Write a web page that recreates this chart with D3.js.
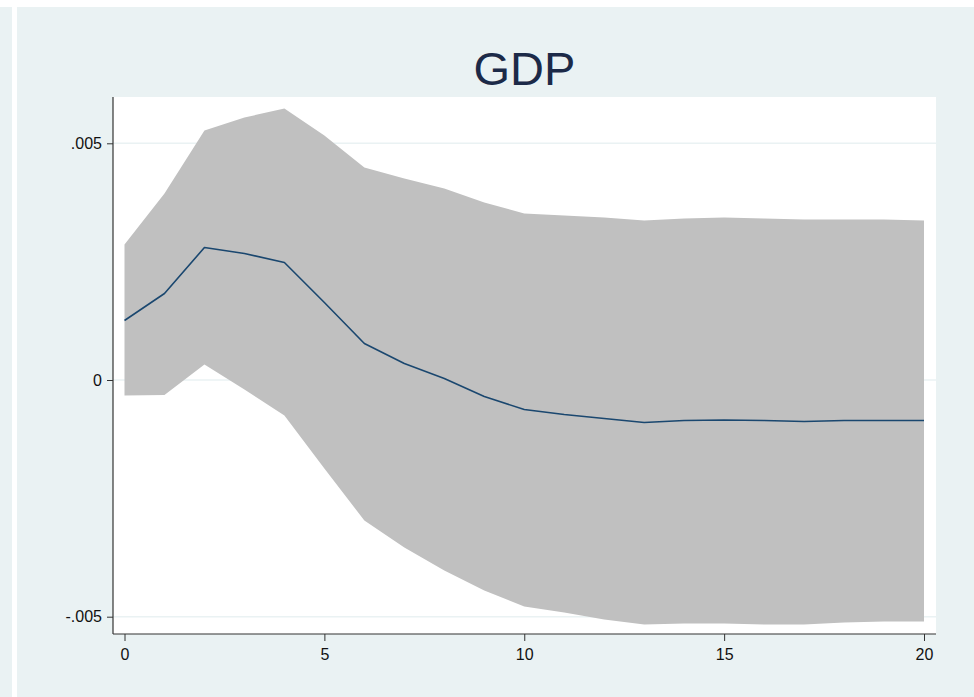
<!DOCTYPE html>
<html>
<head>
<meta charset="utf-8">
<script src="https://cdn.jsdelivr.net/npm/d3@7/dist/d3.min.js"></script>
<style>
  html, body { margin: 0; padding: 0; background: #ffffff; }
  svg { display: block; }
  text { font-family: "Liberation Sans", Arial, sans-serif; }
</style>
</head>
<body>
<svg id="chart" width="974" height="697"></svg>
<script>
// Impulse response of GDP with confidence band
const steps = d3.range(0, 21);
const irf = [0.001257, 0.001827, 0.002799, 0.002672, 0.002482, 0.001637, 0.000771,
  0.000349, 0.000032, -0.000349, -0.000623, -0.000729, -0.000813, -0.000898,
  -0.000856, -0.000845, -0.000856, -0.000877, -0.000856, -0.000856, -0.000856];
const upper = [0.002862, 0.003940, 0.005270, 0.005545, 0.005735, 0.005165, 0.004489,
  0.004256, 0.004045, 0.003750, 0.003517, 0.003475, 0.003433, 0.003369,
  0.003412, 0.003433, 0.003412, 0.003390, 0.003390, 0.003390, 0.003369];
const lower = [-0.000327, -0.000317, 0.000327, -0.000201, -0.000750, -0.001869, -0.002968,
  -0.003538, -0.004024, -0.004447, -0.004784, -0.004911, -0.005059, -0.005165,
  -0.005144, -0.005144, -0.005165, -0.005165, -0.005123, -0.005101, -0.005101];
const yTicks = [-0.005, 0, 0.005];
const yTickLabels = ["-.005", "0", ".005"];
const xTicks = [0, 5, 10, 15, 20];
const title = "GDP";

const svg = d3.select("#chart");
const W = 974, H = 697;

// outer background
svg.append("rect").attr("x", 0).attr("y", 0).attr("width", W).attr("height", H).attr("fill", "#ffffff");
svg.append("rect").attr("x", 0).attr("y", 7).attr("width", 12).attr("height", H - 7).attr("fill", "#EAF2F3");
svg.append("rect").attr("x", 17).attr("y", 7).attr("width", W - 17).attr("height", H - 7).attr("fill", "#EAF2F3");

// plot region
const plot = { left: 113, right: 936, top: 97, bottom: 634 };
svg.append("rect")
  .attr("x", plot.left).attr("y", plot.top)
  .attr("width", plot.right - plot.left).attr("height", plot.bottom - plot.top)
  .attr("fill", "#ffffff");

const x = d3.scaleLinear().domain([0, 20]).range([124.5, 924]);
const y = d3.scaleLinear().domain([-0.005, 0.005]).range([616.7, 143.3]);

// gridlines
svg.append("g").selectAll("line").data(yTicks).join("line")
  .attr("x1", plot.left).attr("x2", plot.right)
  .attr("y1", d => y(d)).attr("y2", d => y(d))
  .attr("stroke", "#EAF2F3").attr("stroke-width", 1.5);

// confidence band
const area = d3.area()
  .x((d, i) => x(steps[i]))
  .y0((d, i) => y(lower[i]))
  .y1((d, i) => y(upper[i]));
svg.append("path").datum(steps).attr("d", area).attr("fill", "#C0C0C0");

// response line
const line = d3.line().x((d, i) => x(steps[i])).y(d => y(d));
svg.append("path").datum(irf).attr("d", line)
  .attr("fill", "none").attr("stroke", "#1A476F").attr("stroke-width", 1.6)
  .attr("stroke-linejoin", "round");

// y axis
const yAxis = d3.axisLeft(y).tickValues(yTicks)
  .tickFormat((d, i) => yTickLabels[i]).tickSize(6).tickPadding(5);
const gy = svg.append("g").attr("transform", `translate(${plot.left},0)`).call(yAxis);
gy.select(".domain").remove();
gy.append("line").attr("x1", 0).attr("x2", 0).attr("y1", plot.top).attr("y2", plot.bottom)
  .attr("stroke", "#333333").attr("stroke-width", 1.2);
gy.selectAll(".tick line").attr("stroke", "#333333");
gy.selectAll(".tick text").attr("font-size", 16).attr("fill", "#111111")
  .attr("font-family", "Liberation Sans, Arial, sans-serif");

// x axis
const xAxis = d3.axisBottom(x).tickValues(xTicks).tickFormat(d3.format("d")).tickSize(7).tickPadding(8);
const gx = svg.append("g").attr("transform", `translate(0,${plot.bottom})`).call(xAxis);
gx.select(".domain").remove();
gx.append("line").attr("x1", plot.left).attr("x2", plot.right).attr("y1", 0).attr("y2", 0)
  .attr("stroke", "#333333").attr("stroke-width", 1.2);
gx.selectAll(".tick line").attr("stroke", "#333333");
gx.selectAll(".tick text").attr("font-size", 16).attr("fill", "#111111")
  .attr("font-family", "Liberation Sans, Arial, sans-serif");

// title
svg.append("text")
  .attr("x", (plot.left + plot.right) / 2).attr("y", 85)
  .attr("text-anchor", "middle")
  .attr("font-size", 47).attr("fill", "#1C2A48")
  .text(title);
</script>
</body>
</html>
